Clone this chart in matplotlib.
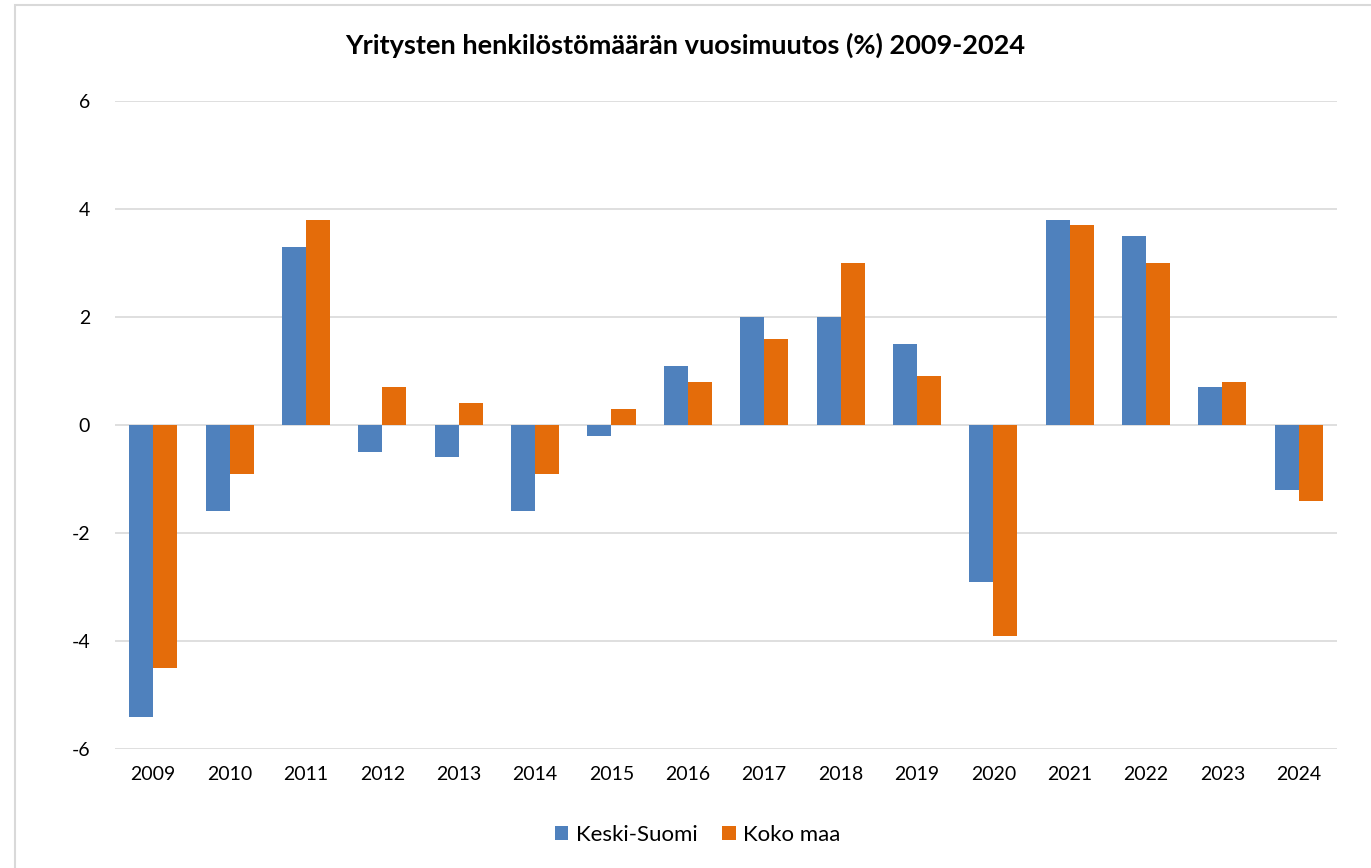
import numpy as np
import matplotlib
matplotlib.use("Agg")
import matplotlib.pyplot as plt
from matplotlib.patches import Rectangle

plt.rcParams['font.family'] = ['Lato', 'DejaVu Sans']
plt.rcParams['axes.unicode_minus'] = False

years = ['2009', '2010', '2011', '2012', '2013', '2014', '2015', '2016',
         '2017', '2018', '2019', '2020', '2021', '2022', '2023', '2024']
keski_suomi = [-5.4, -1.6, 3.3, -0.5, -0.6, -1.6, -0.2, 1.1,
               2.0, 2.0, 1.5, -2.9, 3.8, 3.5, 0.7, -1.2]
koko_maa = [-4.5, -0.9, 3.8, 0.7, 0.4, -0.9, 0.3, 0.8,
            1.6, 3.0, 0.9, -3.9, 3.7, 3.0, 0.8, -1.4]

blue = '#4f81bd'
orange = '#e46c0a'

fig = plt.figure(figsize=(13.71, 8.68), dpi=100)
ax = fig.add_axes([0.0839, 0.137, 0.8913, 0.7466])

x = np.arange(len(years))
w = 0.315
ax.bar(x - w / 2, keski_suomi, w, color=blue, label='Keski-Suomi', zorder=3)
ax.bar(x + w / 2, koko_maa, w, color=orange, label='Koko maa', zorder=3)

ax.set_xlim(-0.5, len(years) - 0.5)
ax.set_ylim(-6, 6)
ax.set_yticks(np.arange(-6, 7, 2))
ax.set_xticks(x)
ax.set_xticklabels(years)
ax.tick_params(axis='both', length=0, labelsize=14, colors='black')
ax.tick_params(axis='x', pad=12)
ax.tick_params(axis='y', pad=18)
ax.grid(axis='y', color='#d9d9d9', linewidth=1.2, zorder=0)
for s in ax.spines.values():
    s.set_visible(False)

fig.text(0.5, 0.948, 'Yritysten henkilöstömäärän vuosimuutos (%) 2009-2024',
         ha='center', va='center', fontsize=19.5, fontweight='bold')

fig.legend(loc='center', bbox_to_anchor=(0.509, 0.038), ncol=2, frameon=False,
           fontsize=16, handlelength=0.6, handleheight=0.6,
           handletextpad=0.35, columnspacing=1.1)

# chart border like the Excel chart area
fig.patches.append(Rectangle((15 / 1371, -0.1), 1.2, 1.1 - 5 / 868,
                             transform=fig.transFigure, fill=False,
                             edgecolor='#d9d9d9', linewidth=1.5))

fig.savefig('out.png', dpi=100)
